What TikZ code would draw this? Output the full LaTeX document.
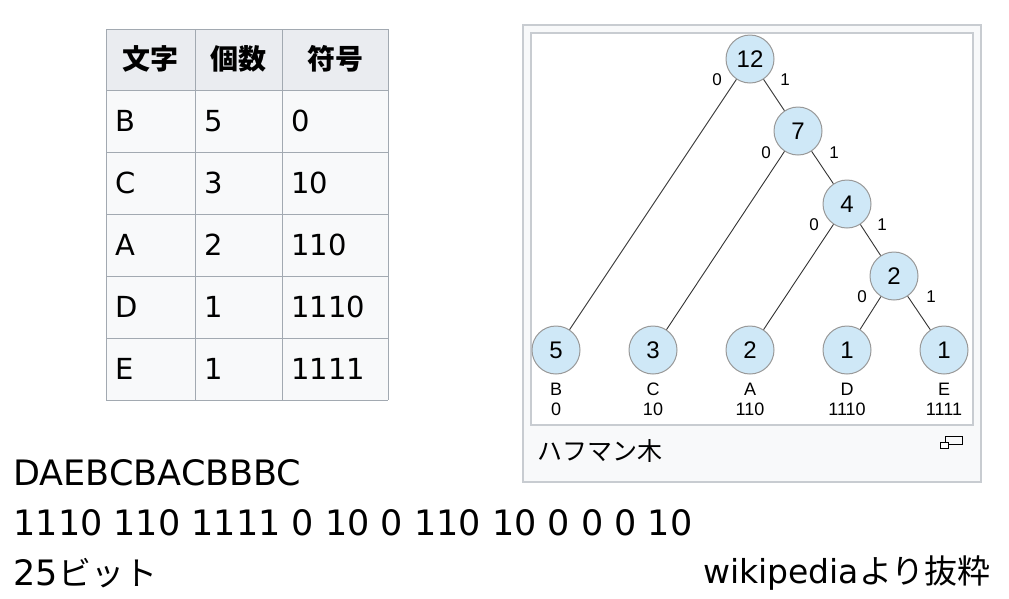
\documentclass[tikz,border=0pt]{standalone}
\usepackage{fontspec}
\setmainfont{Noto Sans CJK JP}
\newfontfamily\arialf{Liberation Sans}
\newfontfamily\djvf{DejaVu Sans}
\definecolor{nodefill}{HTML}{CFE8F7}
\definecolor{tbl}{HTML}{A2A9B1}
\definecolor{thd}{HTML}{EAECF0}
\definecolor{tbd}{HTML}{F8F9FA}
\definecolor{frm}{HTML}{C8CCD1}
\begin{document}
\begin{tikzpicture}[x=1pt,y=-1pt,
  tn/.style={circle,draw=gray!80,line width=1pt,fill=nodefill,minimum size=48pt,inner sep=0pt,font=\arialf\fontsize{24}{24}\selectfont},
  el/.style={font=\arialf\fontsize{17}{17}\selectfont},
  lab/.style={font=\arialf\fontsize{18}{20}\selectfont,align=center},
  cell/.style={anchor=west,font=\djvf\fontsize{29}{29}\selectfont},
  big/.style={anchor=west,font=\djvf\fontsize{35}{35}\selectfont}]
\useasboundingbox (0,0) rectangle (1009,598);
\fill[white] (0,0) rectangle (1009,598);
% table
\fill[thd] (106,29) rectangle (388,90);
\fill[tbd] (106,90) rectangle (388,400);
\foreach \y in {29,90,152,214,276,338,400} \draw[tbl,line width=1pt] (106,\y) -- (388,\y);
\foreach \x in {106,195,282,388} \draw[tbl,line width=1pt] (\x,29) -- (\x,400);
\node[font=\bfseries\fontsize{28}{28}\selectfont] (h1) at (150,59) {文字};
\node[font=\bfseries\fontsize{28}{28}\selectfont] (h2) at (238,59) {個数};
\node[font=\bfseries\fontsize{28}{28}\selectfont] (h3) at (335,59) {符号};
\foreach \a/\b/\c/\y in {B/5/0/121,C/3/10/183,A/2/110/245,D/1/1110/307,E/1/1111/369}{
  \node[cell] at (112,\y) {\a};
  \node[cell] at (201,\y) {\b};
  \node[cell] at (288,\y) {\c};
}
% frame
\draw[frm,fill=tbd,line width=1.2pt] (523,25) rectangle (981,482);
\draw[frm,fill=white,line width=1.2pt] (531,33) rectangle (973,425);
\node[anchor=west,font=\fontsize{25}{25}\selectfont] (cap) at (534,451) {ハフマン木};
\draw[line width=0.9pt] (945,436) rectangle (962,444);
\draw[line width=0.9pt,fill=white] (940,442) rectangle (948,448);
% tree
\node[tn] (n12) at (750,59) {12};
\node[tn] (n7) at (798,131) {7};
\node[tn] (n4) at (847,204) {4};
\node[tn] (n2) at (894,276) {2};
\node[tn] (lB) at (556,350) {5};
\node[tn] (lC) at (653,350) {3};
\node[tn] (lA) at (750,350) {2};
\node[tn] (lD) at (847,350) {1};
\node[tn] (lE) at (944,350) {1};
\begin{scope}[line width=0.9pt,draw=black!80]
\draw (n12) -- (lB); \draw (n12) -- (n7);
\draw (n7) -- (lC); \draw (n7) -- (n4);
\draw (n4) -- (lA); \draw (n4) -- (n2);
\draw (n2) -- (lD); \draw (n2) -- (lE);
\end{scope}
\node[el] (e1) at (717,80) {0}; \node[el] (e2) at (785,80) {1};
\node[el] (e3) at (766,153) {0}; \node[el] (e4) at (834,153) {1};
\node[el] (e5) at (814,225) {0}; \node[el] (e6) at (882,225) {1};
\node[el] (e7) at (862,297) {0}; \node[el] (e8) at (931,297) {1};
\node[lab] (tB) at (556,399) {B\\0};
\node[lab] (tC) at (653,399) {C\\10};
\node[lab] (tA) at (750,399) {A\\110};
\node[lab] (tD) at (847,399) {D\\1110};
\node[lab] (tE) at (944,399) {E\\1111};
% bottom text
\node[big] (s1) at (10,473) {DAEBCBACBBBC};
\node[big] (s2) at (10,523) {1110 110 1111 0 10 0 110 10 0 0 0 10};
\node[anchor=west,font=\fontsize{33}{33}\selectfont] (s3) at (10,573) {{\djvf\fontsize{35}{35}\selectfont 25}ビット};
\node[anchor=east,font=\fontsize{33}{33}\selectfont] (s4) at (994,573) {{\djvf\fontsize{33}{33}\selectfont wikipedia}より抜粋};
\end{tikzpicture}
\end{document}
